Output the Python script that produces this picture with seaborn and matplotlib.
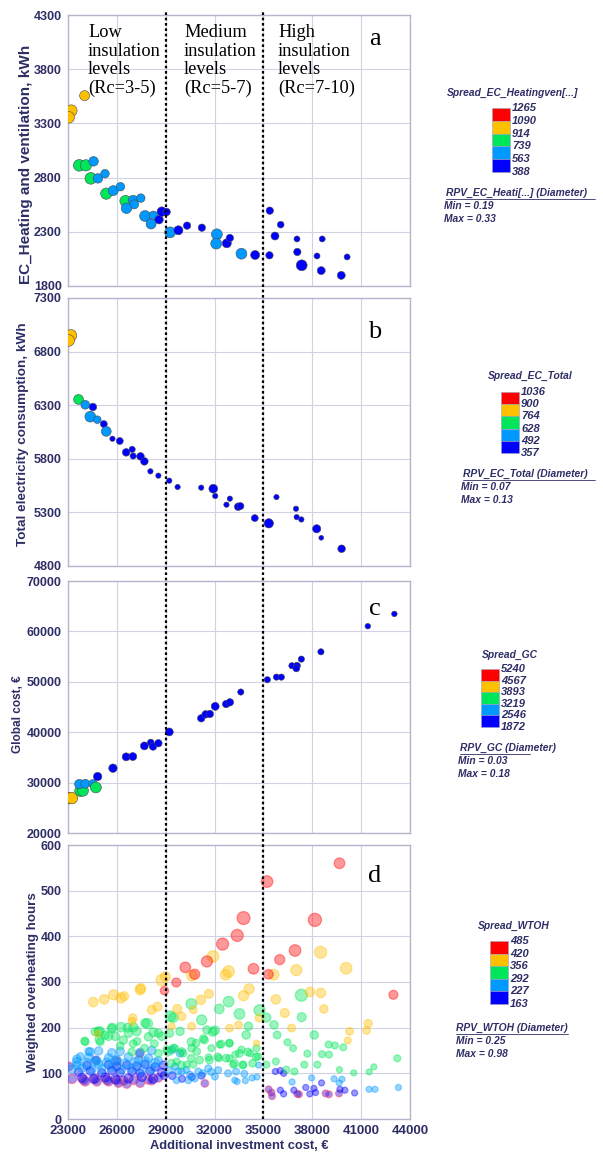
import numpy as np
import pandas as pd
import matplotlib
matplotlib.use("Agg")
import matplotlib.pyplot as plt
import matplotlib.transforms as mtransforms
from matplotlib.patches import Rectangle
from matplotlib.lines import Line2D
from matplotlib.ticker import MultipleLocator
import seaborn as sns

# ---------------- data ----------------
# panel a: EC heating + ventilation
heat_x = [24020, 23200, 23040, 23690, 24100, 24570, 24400, 24840, 25270, 25350,
          25780, 26220, 26530, 27000, 27060, 26590, 27470, 27730, 28240, 28100,
          28590, 28760, 29060, 29270, 29780, 30310, 31220, 32140, 32100, 32750,
          32940, 33650, 34490, 35370, 35390, 35710, 36060, 37060, 38610, 37080,
          38290, 37350, 38550, 39780, 40140]
heat_y = [3556, 3417, 3356, 2913, 2913, 2950, 2793, 2793, 2836, 2652,
          2680, 2716, 2584, 2593, 2553, 2517, 2611, 2446, 2452, 2372,
          2412, 2486, 2483, 2295, 2314, 2357, 2338, 2277, 2191, 2194,
          2243, 2098, 2086, 2083, 2495, 2261, 2366, 2234, 2234, 2114,
          2077, 1991, 1942, 1898, 2068]
heat_spread = [1000, 1000, 1000, 820, 820, 650, 820, 650, 650, 820,
               650, 650, 820, 650, 650, 650, 650, 650, 650, 650,
               470, 470, 470, 650, 470, 470, 470, 650, 650, 470,
               470, 650, 470, 470, 470, 470, 470, 470, 470, 470,
               470, 470, 470, 470, 470]
heat_rpv = [0.27, 0.31, 0.31, 0.31, 0.30, 0.26, 0.31, 0.26, 0.24, 0.30,
            0.27, 0.24, 0.30, 0.26, 0.25, 0.28, 0.24, 0.29, 0.24, 0.27,
            0.24, 0.26, 0.22, 0.29, 0.25, 0.22, 0.22, 0.29, 0.29, 0.25,
            0.22, 0.29, 0.25, 0.22, 0.22, 0.23, 0.21, 0.20, 0.20, 0.22,
            0.20, 0.29, 0.23, 0.23, 0.20]

# panel b: total electricity consumption
tot_x = [23180, 23040, 23650, 24060, 24530, 24370, 24800, 25200, 25350, 25730,
         26180, 26570, 26940, 27000, 27450, 27690, 28060, 28550, 29220, 29730,
         31180, 31920, 32040, 32940, 32730, 33450, 33590, 34470, 35330, 35800,
         37000, 37040, 37330, 38270, 38550, 39800]
tot_y = [6951, 6904, 6354, 6304, 6283, 6193, 6165, 6124, 6056, 5987,
         5966, 5860, 5888, 5826, 5823, 5776, 5683, 5643, 5596, 5537,
         5531, 5521, 5453, 5428, 5372, 5353, 5359, 5247, 5198, 5443,
         5334, 5256, 5234, 5147, 5063, 4961]
tot_spread = [830, 830, 700, 560, 420, 560, 560, 420, 560, 420,
              420, 420, 420, 420, 420, 420, 420, 420, 420, 420,
              420, 420, 420, 420, 420, 420, 420, 420, 420, 420,
              420, 420, 420, 420, 420, 420]
tot_rpv = [0.13, 0.13, 0.11, 0.10, 0.09, 0.12, 0.09, 0.085, 0.11, 0.075,
           0.085, 0.09, 0.08, 0.08, 0.09, 0.09, 0.075, 0.075, 0.075, 0.075,
           0.075, 0.10, 0.075, 0.075, 0.075, 0.09, 0.085, 0.085, 0.105, 0.075,
           0.075, 0.075, 0.075, 0.095, 0.072, 0.09]

# panel c: global cost
gc_x = [23040, 23240, 23760, 23920, 23690, 24060, 24530, 24710, 24820, 25760,
        26570, 26980, 27690, 28080, 28220, 28550, 29220, 31180, 31450, 31710,
        32040, 32710, 32940, 33610, 35240, 35800, 36100, 36750, 37060, 37020,
        37330, 38530, 41410, 43040]
gc_y = [26930, 26930, 28380, 28380, 29700, 29770, 29770, 29040, 31200, 32860,
        35110, 35170, 37280, 37940, 37150, 37810, 40050, 42760, 43550, 43620,
        45130, 45590, 45930, 47970, 50410, 50930, 50930, 53190, 53190, 52660,
        54500, 55950, 61030, 63470]
gc_spread = [4200, 4200, 3550, 3550, 2900, 2900, 2900, 3550, 2200, 2200,
             2200, 2200, 2200, 2200, 2200, 2200, 2200, 2200, 2200, 2200,
             2200, 2200, 2200, 2200, 2200, 2200, 2200, 2200, 2200, 2200,
             2200, 2200, 2200, 2200]
gc_rpv = [0.18, 0.18, 0.17, 0.16, 0.12, 0.11, 0.10, 0.16, 0.10, 0.10,
          0.09, 0.09, 0.09, 0.07, 0.08, 0.08, 0.09, 0.08, 0.08, 0.08,
          0.09, 0.08, 0.08, 0.06, 0.06, 0.06, 0.06, 0.06, 0.07, 0.07,
          0.06, 0.06, 0.05, 0.05]

# panel d: weighted overheating hours, one set of lists per spread class
wtoh_red_x = [39670, 35220, 33780, 38160, 33390, 32490, 36940, 31530, 36000, 30200,
              30780, 34390, 35310, 29650, 28920, 42980]
wtoh_red_y = [560, 520, 440, 436, 402, 383, 369, 345, 349, 332,
              317, 329, 317, 299, 281, 272]
wtoh_red_rpv = [0.70, 0.80, 0.95, 0.98, 0.85, 0.85, 0.80, 0.75, 0.65, 0.70,
                0.65, 0.70, 0.60, 0.55, 0.50, 0.55]

wtoh_orange_x = [38510, 31900, 37020, 40080, 32860, 32680, 30610, 35630, 28760, 28980,
                 27430, 27470, 34120, 33780, 31650, 31160, 35760, 37860, 38530, 25800,
                 25220, 24550, 26250, 26450, 28140, 28490, 30690, 29710, 29980, 36310,
                 38710, 34730, 26980, 26940, 29370, 30590, 32920, 33470, 36730, 40290,
                 41430, 41330, 40180, 24820, 34570]
wtoh_orange_y = [365, 356, 326, 330, 323, 316, 314, 316, 304, 312,
                 283, 286, 285, 270, 274, 261, 262, 278, 276, 272,
                 262, 256, 265, 269, 239, 246, 239, 241, 225, 232,
                 241, 221, 221, 214, 203, 203, 199, 206, 199, 192,
                 209, 194, 172, 187, 166]
wtoh_orange_rpv = [0.85, 0.80, 0.75, 0.80, 0.80, 0.70, 0.70, 0.70, 0.80, 0.60,
                   0.65, 0.60, 0.65, 0.65, 0.55, 0.60, 0.60, 0.60, 0.60, 0.65,
                   0.60, 0.60, 0.65, 0.55, 0.55, 0.55, 0.45, 0.55, 0.50, 0.55,
                   0.50, 0.45, 0.50, 0.45, 0.40, 0.45, 0.45, 0.45, 0.45, 0.45,
                   0.50, 0.45, 0.40, 0.40, 0.35]

wtoh_green_x = [37330, 32860, 30570, 33530, 32290, 34760, 29290, 37350, 35180, 31210,
                29470, 27880, 26250, 25710, 24940, 26670, 27220, 32020, 34080, 35650,
                38120, 25490, 24940, 24020, 25910, 27240, 28240, 28760, 29230, 29880,
                31310, 31530, 35840, 33940, 39000, 39900, 39390, 36470, 36820, 37700,
                38590, 39020, 38310, 39670, 40550, 41490, 41780, 43220, 36910, 35760,
                37510, 36410, 35180, 34670, 32900, 33270, 32270, 31630, 30900, 30590,
                29980, 29470, 29060, 28550, 30290, 30690, 29670, 33140, 33760, 34180,
                34570, 33650, 32310, 32920, 31800, 24060, 24880, 25690, 24980, 26200,
                27000, 27700, 28300,
                30570, 30870, 31380, 31890, 32400, 32910, 33530, 34040, 34550, 32200,
                32710, 33220, 33730, 34340, 29140, 29550, 30060, 30570, 31080, 31690,
                29340, 29960, 24670, 25290, 26400, 26710, 27020, 27740, 27940, 26920,
                28550]
wtoh_green_y = [271, 257, 252, 230, 241, 238, 225, 223, 222, 217,
                222, 209, 201, 200, 192, 200, 192, 194, 203, 206,
                184, 181, 174, 171, 181, 170, 190, 181, 188, 192,
                176, 195, 184, 184, 163, 157, 161, 168, 155, 143,
                142, 141, 119, 108, 101, 103, 114, 133, 104, 126,
                119, 108, 119, 137, 133, 141, 133, 135, 148, 155,
                148, 155, 152, 144, 119, 119, 126, 119, 119, 144,
                155, 152, 163, 166, 155, 169, 191, 198, 169, 160,
                165, 155, 165,
                169, 166, 173, 191, 164, 166, 144, 147, 136, 136,
                133, 122, 118, 122, 147, 155, 144, 133, 129, 129,
                122, 118, 191, 184, 173, 188, 201, 210, 180, 147,
                188]
wtoh_green_rpv = [0.85, 0.70, 0.70, 0.70, 0.60, 0.75, 0.70, 0.55, 0.55, 0.65,
                  0.60, 0.65, 0.60, 0.55, 0.60, 0.55, 0.55, 0.55, 0.50, 0.50,
                  0.50, 0.50, 0.55, 0.45, 0.50, 0.45, 0.55, 0.50, 0.50, 0.50,
                  0.45, 0.50, 0.45, 0.50, 0.40, 0.40, 0.40, 0.40, 0.40, 0.40,
                  0.40, 0.40, 0.40, 0.35, 0.35, 0.35, 0.35, 0.40, 0.40, 0.40,
                  0.40, 0.40, 0.40, 0.40, 0.40, 0.40, 0.40, 0.40, 0.45, 0.45,
                  0.45, 0.45, 0.45, 0.45, 0.40, 0.40, 0.40, 0.40, 0.40, 0.40,
                  0.40, 0.40, 0.40, 0.40, 0.40, 0.45, 0.55, 0.50, 0.45, 0.45,
                  0.45, 0.45, 0.45,
                  0.50, 0.45, 0.45, 0.55, 0.45, 0.45, 0.45, 0.45, 0.45, 0.45,
                  0.45, 0.45, 0.45, 0.45, 0.50, 0.45, 0.45, 0.45, 0.45, 0.45,
                  0.45, 0.45, 0.50, 0.50, 0.50, 0.50, 0.55, 0.55, 0.50, 0.45,
                  0.50]

wtoh_lblue_x = [23550, 24270, 24780, 25490, 26000, 26710, 27330, 27940, 28550, 24370,
                24880, 25690, 26200, 27430, 28140, 23550, 24880, 23760, 24270, 29370,
                29880, 29570, 29980, 30490, 31000, 31610, 32220, 32830, 33240, 29670,
                30390, 30790, 32020, 33380, 33890, 34300, 34600, 34710, 36760, 37960,
                39340, 39820, 41490, 41850, 43290, 39650,
                23550, 24160, 24670, 25390, 25900, 26510, 27120, 27740, 28350,
                23250, 23860, 24470, 25080, 25690, 26300, 26920, 27530, 28140,
                29240, 29750, 30260, 31280, 31790, 33320, 33830]
wtoh_lblue_y = [131, 135, 128, 134, 130, 136, 129, 133, 127, 147,
                149, 145, 148, 146, 150, 118, 120, 137, 148, 151,
                144, 115, 104, 97, 104, 111, 107, 100, 85, 85,
                85, 89, 93, 82, 84, 90, 92, 118, 81, 90,
                88, 87, 65, 65, 69, 79,
                125, 123, 126, 124, 127, 122, 125, 126, 123,
                109, 111, 108, 110, 112, 109, 111, 108, 110,
                106, 104, 108, 100, 103, 104, 99]
wtoh_lblue_rpv = [0.50, 0.50, 0.50, 0.50, 0.50, 0.50, 0.50, 0.50, 0.50, 0.50,
                  0.50, 0.50, 0.50, 0.50, 0.50, 0.50, 0.50, 0.45, 0.45, 0.45,
                  0.45, 0.40, 0.40, 0.40, 0.40, 0.40, 0.40, 0.40, 0.35, 0.40,
                  0.40, 0.40, 0.40, 0.35, 0.35, 0.35, 0.35, 0.35, 0.35, 0.35,
                  0.35, 0.35, 0.35, 0.35, 0.35, 0.35,
                  0.55, 0.55, 0.55, 0.55, 0.55, 0.55, 0.55, 0.55, 0.55,
                  0.50, 0.50, 0.50, 0.50, 0.50, 0.50, 0.50, 0.50, 0.50,
                  0.40, 0.40, 0.40, 0.40, 0.40, 0.40, 0.40]

wtoh_blue_x = [23860, 24570, 25290, 25900, 26710, 27530, 28240, 23650, 24370, 25080,
               25690, 26200, 26920, 27430, 28040, 28750, 24160, 25490, 26000, 26610,
               27220, 27730, 28350, 28860, 28900, 29400, 30000, 30600, 31200, 35730,
               36040, 36240, 36040, 36240, 36870, 37600, 37850, 38100, 38200, 38570,
               39700, 40000, 40600]
wtoh_blue_y = [90, 88, 91, 87, 89, 92, 88, 103, 105, 101,
               106, 102, 104, 100, 105, 102, 117, 119, 115, 118,
               116, 120, 114, 118, 95, 95, 88, 92, 95, 104,
               106, 100, 63, 55, 63, 69, 55, 67, 58, 79,
               65, 63, 57]
wtoh_blue_rpv = [0.55, 0.55, 0.55, 0.55, 0.55, 0.55, 0.55, 0.50, 0.50, 0.50,
                 0.50, 0.50, 0.50, 0.50, 0.50, 0.50, 0.50, 0.50, 0.50, 0.50,
                 0.50, 0.50, 0.50, 0.50, 0.45, 0.45, 0.40, 0.40, 0.40, 0.35,
                 0.35, 0.35, 0.35, 0.35, 0.35, 0.35, 0.35, 0.35, 0.35, 0.35,
                 0.35, 0.35, 0.35]

# overlapping low-WTOH points that show a blue core and a pink rim
wtoh_mixed_x = [23245, 23960, 24670, 25387, 26000, 26408, 27020, 27940, 28550, 31400,
                23040, 24060, 24770, 25490, 26100, 26610, 27430, 28140, 35320, 35490,
                35530, 37080, 37180, 38820, 39020, 39640, 27400, 24700, 26000]
wtoh_mixed_y = [88, 86, 88, 86, 85, 84, 85, 86, 90, 78,
                115, 82, 82, 82, 79, 77, 79, 84, 65, 58,
                50, 55, 54, 56, 54, 56, 143, 129, 127]
wtoh_mixed_rpv = [0.60, 0.60, 0.60, 0.60, 0.55, 0.55, 0.55, 0.55, 0.50, 0.45,
                  0.55, 0.55, 0.55, 0.55, 0.55, 0.55, 0.55, 0.50, 0.40, 0.40,
                  0.40, 0.40, 0.40, 0.40, 0.40, 0.40, 0.50, 0.50, 0.50]

# legend texts
heat_levels = ["1265", "1090", "914", "739", "563", "388"]
tot_levels = ["1036", "900", "764", "628", "492", "357"]
gc_levels = ["5240", "4567", "3893", "3219", "2546", "1872"]
wtoh_levels = ["485", "420", "356", "292", "227", "163"]

# ---------------- style ----------------
W, H = 603, 1155
navy = "#2e2e66"
class_names = ["blue", "lblue", "green", "orange", "red"]
class_colors = {"blue": "#0000ff", "lblue": "#0099ff", "green": "#00e65a",
                "orange": "#ffc000", "red": "#ff0000"}

sns.set_style("white")
plt.rcParams["font.family"] = ["Liberation Sans", "DejaVu Sans"]


def fx(px):
    return px / W


def fy(py):
    return 1 - py / H


fig = plt.figure(figsize=(W / 100, H / 100), dpi=100)

# axes boxes in pixels: (top, bottom)
ax_rows = [(15, 286), (298, 566), (581, 833), (845, 1119)]
axes = []
for top, bottom in ax_rows:
    axes.append(fig.add_axes([fx(68), fy(bottom), (410 - 68) / W, (bottom - top) / H]))
ax_a, ax_b, ax_c, ax_d = axes


def style_axis(ax, ylim, ymajor, yminor, ylabel, label_x, label_y, label_size):
    ax.set_xlim(23000, 44000)
    ax.set_ylim(*ylim)
    # ticks start at the axis minimum, not at multiples of the step
    ax.xaxis.set_major_locator(MultipleLocator(3000, offset=23000 % 3000))
    ax.xaxis.set_minor_locator(MultipleLocator(1500, offset=23000 % 1500))
    ax.yaxis.set_major_locator(MultipleLocator(ymajor, offset=ylim[0] % ymajor))
    ax.yaxis.set_minor_locator(MultipleLocator(yminor, offset=ylim[0] % yminor))
    ax.grid(True, which="major", color="#d2d2e6", linewidth=0.8)
    ax.set_axisbelow(True)
    for sp in ax.spines.values():
        sp.set_color("#b4b4cc")
        sp.set_linewidth(1.0)
    ax.tick_params(which="both", direction="out", color="#a8a8c0", labelcolor=navy,
                   labelsize=9, pad=1.5)
    ax.tick_params(which="major", length=3)
    ax.tick_params(which="minor", length=2)
    for lab in ax.get_yticklabels():
        lab.set_fontweight("bold")
    ax.set_xlabel("")
    ax.set_ylabel(ylabel, fontsize=label_size, fontweight="bold", color=navy)
    ax.yaxis.set_label_coords((label_x - 68) / 342, label_y)


def spread_panel(ax, xs, ys, spread, rpv, edges, sizes, rpv_range):
    df = pd.DataFrame({"x": xs, "y": ys, "spread": spread, "rpv": rpv})
    df["cls"] = pd.cut(df["spread"], bins=edges, labels=class_names, include_lowest=True)
    sns.scatterplot(data=df, x="x", y="y", hue="cls", palette=class_colors,
                    size="rpv", sizes=sizes, size_norm=rpv_range,
                    edgecolor="#4a4a4a", linewidth=0.4, legend=False, ax=ax, zorder=3)


spread_panel(ax_a, heat_x, heat_y, heat_spread, heat_rpv,
             [388, 563, 739, 914, 1090, 1265], (14, 80), (0.19, 0.33))
spread_panel(ax_b, tot_x, tot_y, tot_spread, tot_rpv,
             [357, 492, 628, 764, 900, 1036], (10, 70), (0.07, 0.13))
spread_panel(ax_c, gc_x, gc_y, gc_spread, gc_rpv,
             [1872, 2546, 3219, 3893, 4567, 5240], (8, 70), (0.03, 0.18))

# panel d
d_frames = []
for name, xs, ys, rp in [("blue", wtoh_blue_x, wtoh_blue_y, wtoh_blue_rpv),
                         ("lblue", wtoh_lblue_x, wtoh_lblue_y, wtoh_lblue_rpv),
                         ("green", wtoh_green_x, wtoh_green_y, wtoh_green_rpv),
                         ("orange", wtoh_orange_x, wtoh_orange_y, wtoh_orange_rpv),
                         ("red", wtoh_red_x, wtoh_red_y, wtoh_red_rpv)]:
    d_frames.append(pd.DataFrame({"x": xs, "y": ys, "rpv": rp, "cls": name}))
wtoh = pd.concat(d_frames, ignore_index=True)

mixed = pd.DataFrame({"x": wtoh_mixed_x, "y": wtoh_mixed_y, "rpv": wtoh_mixed_rpv})
sns.scatterplot(data=mixed, x="x", y="y", size="rpv", sizes=(8, 90),
                size_norm=(0.25, 0.98), color="#4828d8", edgecolor="#ff4078",
                linewidth=0.9, alpha=0.5, legend=False, ax=ax_d, zorder=3)
sns.scatterplot(data=wtoh, x="x", y="y", hue="cls", palette=class_colors,
                size="rpv", sizes=(8, 90), size_norm=(0.25, 0.98),
                edgecolor="face", linewidth=0.9, alpha=0.4, legend=False,
                ax=ax_d, zorder=3)

style_axis(ax_a, (1800, 4300), 500, 100, "EC_Heating and ventilation, kWh", 33, 0.45, 11)
style_axis(ax_b, (4800, 7300), 500, 100, "Total electricity consumption, kWh", 29, 0.49, 9.7)
style_axis(ax_c, (20000, 70000), 10000, 5000, "Global cost, \u20ac", 24, 0.47, 8.5)
style_axis(ax_d, (0, 600), 100, 50, "Weighted overheating hours", 39, 0.50, 9.6)

for ax in (ax_a, ax_b, ax_c):
    ax.tick_params(axis="x", labelbottom=False)
for lab in ax_d.get_xticklabels():
    lab.set_fontweight("bold")
ax_d.tick_params(axis="x", labelsize=9.5)
ax_d.set_xlabel("Additional investment cost, \u20ac", fontsize=9.3, fontweight="bold",
                color=navy, labelpad=2)

# dotted separators of the insulation levels, through all four panels
trans = mtransforms.blended_transform_factory(ax_d.transData, fig.transFigure)
for xv in (29000, 35000):
    fig.add_artist(Line2D([xv, xv], [fy(1119), fy(12)], transform=trans, color="black",
                          linestyle=(0, (1.2, 1.2)), linewidth=1.6, zorder=10))

# insulation annotations and panel letters
serif = ["Liberation Serif", "DejaVu Serif"]
for px, txt in [(88, "Low\ninsulation\nlevels\n(Rc=3-5)"),
                (184, "Medium\ninsulation\nlevels\n(Rc=5-7)"),
                (278, "High\ninsulation\nlevels\n(Rc=7-10)")]:
    fig.text(fx(px), fy(24), txt, ha="left", va="top", fontsize=13.2, linespacing=1.12,
             family=serif, color="black")
for py, letter in [(45, "a"), (338, "b"), (615, "c"), (882, "d")]:
    fig.text(fx(375), fy(py), letter, ha="center", va="baseline", fontsize=19,
             family=serif, color="black")

# colour legends at the right
leg_font = dict(fontsize=7.4, fontweight="bold", fontstyle="italic", color=navy)
num_font = dict(fontsize=8, fontweight="bold", fontstyle="italic", color=navy)
colors_top_down = [class_colors[c] for c in reversed(class_names)]


def draw_legend(title, title_xy, box_x, box_top, box_bottom, levels,
                rpv_title, rpv_xy, underline_to, rpv_min, rpv_max, min_x):
    fig.text(fx(title_xy[0]), fy(title_xy[1]), title, ha="center", va="center", **leg_font)
    step = (box_bottom - box_top) / len(colors_top_down)
    box_w = 18
    for i, col in enumerate(colors_top_down):
        fig.add_artist(Rectangle((fx(box_x), fy(box_top + (i + 1) * step)), box_w / W, step / H,
                                 transform=fig.transFigure, facecolor=col,
                                 edgecolor="#a0a0b8", linewidth=0.4))
    for i, lab in enumerate(levels):
        fig.text(fx(box_x + box_w + 2), fy(box_top + i * step), lab, ha="left", va="center",
                 **num_font)
    rx, ry = rpv_xy
    fig.text(fx(rx), fy(ry), rpv_title, ha="left", va="center", **leg_font)
    fig.add_artist(Line2D([fx(rx), fx(underline_to)], [fy(ry + 6), fy(ry + 6)],
                          transform=fig.transFigure, color=navy, linewidth=0.6))
    fig.text(fx(min_x), fy(ry + 13), "Min = %s" % rpv_min, ha="left", va="center", **leg_font)
    fig.text(fx(min_x), fy(ry + 26), "Max = %s" % rpv_max, ha="left", va="center", **leg_font)


draw_legend("Spread_EC_Heatingven[...]", (513, 93), 492, 108, 172, heat_levels,
            "RPV_EC_Heati[...] (Diameter)", (446, 193), 595, "0.19", "0.33", 444)
draw_legend("Spread_EC_Total", (530, 376), 501, 392, 453, tot_levels,
            "RPV_EC_Total (Diameter)", (463, 474), 595, "0.07", "0.13", 461)
draw_legend("Spread_GC", (510, 655), 481, 669, 727, gc_levels,
            "RPV_GC (Diameter)", (460, 748), 530, "0.03", "0.18", 458)
draw_legend("Spread_WTOH", (514, 926), 490, 941, 1004, wtoh_levels,
            "RPV_WTOH (Diameter)", (456, 1028), 568, "0.25", "0.98", 456)

fig.savefig("out.png", dpi=100)
